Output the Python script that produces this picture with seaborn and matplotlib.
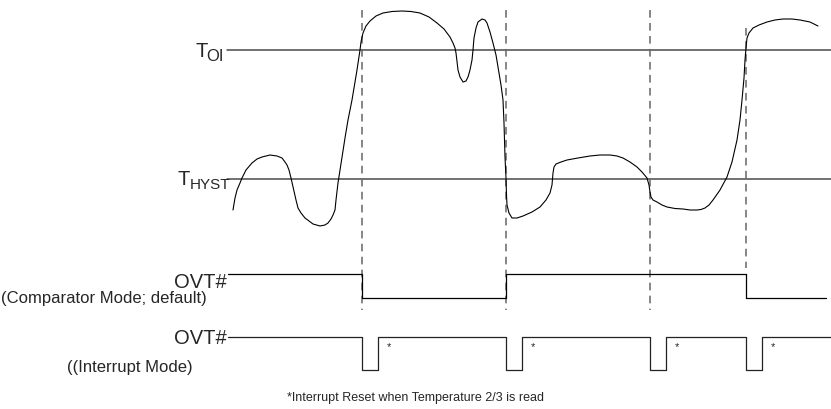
import numpy as np
import pandas as pd
import matplotlib
matplotlib.use("Agg")
import matplotlib.pyplot as plt
import seaborn as sns

# Temperature trace (time, screen row; rows grow downward)
trace_time = [233, 235, 237, 240, 242, 246, 252, 257, 262, 270, 277, 282, 285, 287,
              289, 291, 293, 296, 298, 301, 305, 309, 313, 320, 325, 328, 331, 333,
              335, 336, 338, 340, 342, 345, 348, 352, 357, 360, 361, 363, 366, 370,
              376, 383, 392, 402, 411, 420, 429, 437, 444, 450, 453, 455, 456, 457,
              458, 460, 463, 466, 468, 470, 472, 473, 474, 476, 478, 482, 485, 487,
              490, 493, 496, 498, 501, 503, 504, 505, 506, 506.5, 507, 509, 512, 517,
              523, 532, 540, 546, 550, 552, 553, 554, 556, 561, 567, 578, 590, 600,
              610, 617, 623, 630, 637, 642, 647, 649, 650, 651, 653, 657, 662, 667,
              675, 683, 690, 697, 701, 705, 709, 713, 720, 727, 732, 737, 740, 742,
              744, 745, 746, 747, 749, 753, 759, 767, 775, 783, 792, 800, 810, 818]
trace_row = [210, 198, 190, 183, 178, 170, 163, 159, 157, 155, 156, 158, 162, 165,
             170, 178, 187, 200, 208, 213, 218, 221, 224, 226, 225, 223, 219, 215,
             210, 200, 183, 170, 157, 138, 120, 100, 70, 50, 42, 33, 26, 21,
             16, 13, 11.5, 11, 11.5, 13, 17, 23, 29, 37, 43, 48, 53, 62,
             70, 77, 82, 81, 77, 70, 60, 50, 38, 28, 22, 19, 20, 23,
             32, 43, 55, 67, 85, 100, 123, 157, 178, 195, 205, 213, 218, 218,
             216, 212, 207, 200, 193, 185, 173, 167, 164, 162, 160, 158, 156, 155,
             155, 156, 158, 162, 167, 172, 178, 185, 192, 197, 200, 202, 205, 207,
             208.5, 209, 210, 210, 209.5, 208, 205, 200, 190, 177, 162, 140, 120, 100,
             78, 60, 48, 38, 33, 28, 25, 22, 20, 19, 19, 20, 22, 26]

# Threshold levels
t_oi_row = 50
t_hyst_row = 179
line_start, line_end = 227, 831

# Events (dashed markers) and where each dashed marker ends
event_time = [362, 506, 650, 746]
event_top = [10, 10, 10, 28]
event_bottom = [310, 310, 310, 268]

# Comparator mode OVT#
comp_time = [228, 362, 506, 746, 826]
comp_state = [1, 0, 1, 0, 0]
comp_high, comp_low = 274, 298

# Interrupt mode OVT#
int_time = [228, 362, 378, 506, 522, 650, 666, 746, 762, 831]
int_state = [1, 0, 1, 0, 1, 0, 1, 0, 1, 1]
int_high, int_low = 337, 370
reset_time = [378, 522, 666, 762]

sns.set_theme(style="white")
plt.rcParams["font.family"] = ["Liberation Sans", "DejaVu Sans"]

fig = plt.figure(figsize=(8.31, 4.09), dpi=100)
ax = fig.add_axes([0, 0, 1, 1])
ax.set_xlim(0, 831)
ax.set_ylim(409, 0)
ax.axis("off")

# threshold lines
for row in (t_oi_row, t_hyst_row):
    sns.lineplot(x=[line_start, line_end], y=[row, row], ax=ax,
                 color="#4a4a4a", linewidth=1.1)

# dashed event markers
ax.vlines(event_time, event_top, event_bottom, colors="#666666",
          linestyles=(0, (5, 3.5)), linewidth=1.1)

# temperature trace
trace = pd.DataFrame({"time": trace_time, "row": trace_row})
sns.lineplot(data=trace, x="time", y="row", sort=False, estimator=None,
             ax=ax, color="black", linewidth=0.8)

# digital outputs
comp_rows = [comp_high if s else comp_low for s in comp_state]
sns.lineplot(x=comp_time, y=comp_rows, sort=False, estimator=None, ax=ax,
             color="black", linewidth=0.9, drawstyle="steps-post")
int_rows = [int_high if s else int_low for s in int_state]
sns.lineplot(x=int_time, y=int_rows, sort=False, estimator=None, ax=ax,
             color="#222222", linewidth=0.9, drawstyle="steps-post")

for t in reset_time:
    ax.text(t + 11, int_high + 13, "*", fontsize=8, ha="center", va="baseline")

# labels
ax.text(195, 57, "T", fontsize=14.5, ha="left", va="baseline")
ax.text(206, 61, "OI", fontsize=12, ha="left", va="baseline")
ax.text(177, 185, "T", fontsize=14.5, ha="left", va="baseline")
ax.text(190, 189, "HYST", fontsize=11, ha="left", va="baseline")

ax.text(227, 288, "OVT#", fontsize=14.5, ha="right", va="baseline")
ax.text(1, 303, "(Comparator Mode; default)", fontsize=12, ha="left", va="baseline")
ax.text(227, 344, "OVT#", fontsize=14.5, ha="right", va="baseline")
ax.text(193, 372, "((Interrupt Mode)", fontsize=12, ha="right", va="baseline")
ax.text(287, 401, "*Interrupt Reset when Temperature 2/3 is read", fontsize=9,
        ha="left", va="baseline")

fig.savefig("out.png", dpi=100)
